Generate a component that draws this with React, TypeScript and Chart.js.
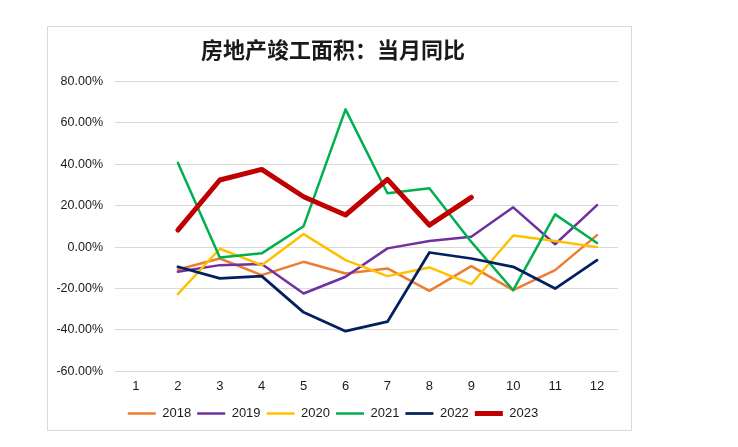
import React, { useEffect, useRef } from "react";
import { Chart, registerables } from "chart.js";

Chart.register(...registerables);

const months = ["1", "2", "3", "4", "5", "6", "7", "8", "9", "10", "11", "12"];
const yTicks = [-60, -40, -20, 0, 20, 40, 60, 80];

const s2018 = [null, -10.8, -5.5, -13.5, -7.1, -12.7, -10.3, -21.1, -9.2, -20.8, -11.1, 5.8];
const s2019 = [null, -11.9, -8.7, -8.2, -22.4, -14.3, -0.6, 3.0, 5.0, 19.2, 1.4, 20.3];
const s2020 = [null, -22.7, -0.8, -8.7, 6.3, -6.3, -14.0, -9.8, -17.9, 5.6, 3.0, 0.0];
const s2021 = [null, 40.7, -5.0, -3.0, 10.1, 66.5, 26.0, 28.4, 2.5, -20.8, 15.8, 2.0];
const s2022 = [null, -9.5, -15.1, -14.0, -31.5, -40.6, -36.0, -2.6, -5.5, -9.5, -20.0, -6.3];
const s2023 = [null, 8.2, 32.4, 37.5, 24.3, 15.5, 32.7, 10.6, 24.0, null, null, null];

const seriesNames = ["2018", "2019", "2020", "2021", "2022", "2023"];
const seriesData = [s2018, s2019, s2020, s2021, s2022, s2023];
const seriesColors = ["#ED7D31", "#7030A0", "#FFC000", "#00B050", "#002060", "#C00000"];
const seriesWidths = [2.5, 2.5, 2.5, 2.5, 2.75, 5];

const FONT = "'Liberation Sans', Arial, sans-serif";

export default function App() {
  const ref = useRef<HTMLCanvasElement | null>(null);

  useEffect(() => {
    if (!ref.current) return;
    const chart = new Chart(ref.current, {
      type: "line",
      data: {
        labels: months,
        datasets: seriesNames.map((name, i) => ({
          label: name,
          data: seriesData[i],
          borderColor: seriesColors[i],
          backgroundColor: seriesColors[i],
          borderWidth: seriesWidths[i],
          pointRadius: 0,
          tension: 0,
          spanGaps: false,
          borderJoinStyle: "round" as const,
          borderCapStyle: "round" as const,
          order: seriesNames.length - i,
        })),
      },
      options: {
        animation: false,
        responsive: false,
        maintainAspectRatio: false,
        layout: { padding: { left: 0, right: 13, top: 0, bottom: 0 } },
        plugins: {
          tooltip: { enabled: false },
          title: {
            display: true,
            text: "房地产竣工面积：当月同比",
            color: "#1a1a1a",
            font: { family: "'Noto Sans CJK SC', sans-serif", size: 22, weight: "bold" },
            padding: { top: 9, bottom: 19 },
          },
          legend: {
            position: "bottom",
            labels: {
              usePointStyle: true,
              pointStyle: "line",
              pointStyleWidth: 28,
              boxWidth: 28,
              boxHeight: 13,
              padding: 6,
              color: "#1a1a1a",
              font: { family: FONT, size: 13 },
              sort: (a: any, b: any) => a.datasetIndex - b.datasetIndex,
            },
          },
        },
        scales: {
          x: {
            offset: true,
            grid: { display: false, drawTicks: false },
            border: { display: false },
            ticks: { color: "#1a1a1a", font: { family: FONT, size: 13 }, padding: 7, maxRotation: 0 },
          },
          y: {
            min: -60,
            max: 80,
            afterBuildTicks: (scale: any) => {
              scale.ticks = yTicks.map((v) => ({ value: v }));
            },
            afterFit: (scale: any) => {
              scale.width = 67;
            },
            grid: { color: "#d9d9d9", lineWidth: 1, drawTicks: false },
            border: { display: false },
            ticks: {
              color: "#1a1a1a",
              font: { family: FONT, size: 12.5 },
              padding: 12,
              callback: (v: any) => Number(v).toFixed(2) + "%",
            },
          },
        },
      },
    });
    return () => chart.destroy();
  }, []);

  return (
    <div
      style={{
        position: "absolute",
        left: 47,
        top: 26,
        width: 585,
        height: 405,
        border: "1px solid #d9d9d9",
        boxSizing: "border-box",
        background: "#ffffff",
      }}
    >
      <canvas ref={ref} width={583} height={403} style={{ display: "block" }} />
    </div>
  );
}
